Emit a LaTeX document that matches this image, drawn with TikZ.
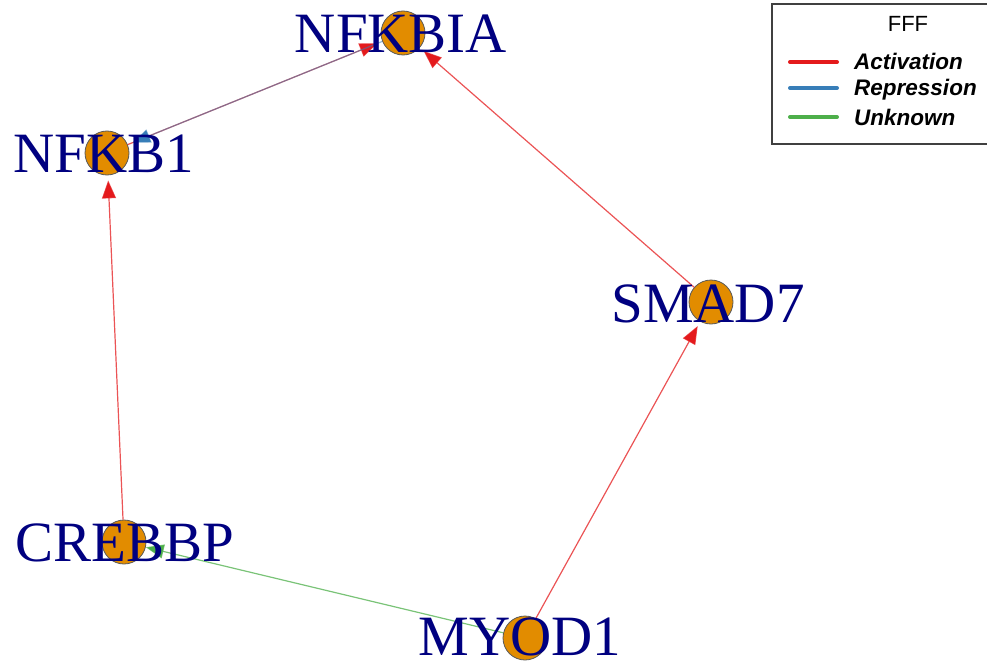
\documentclass[tikz,border=0pt]{standalone}
\usepackage{fontspec}
\setmainfont{Liberation Serif}
\setsansfont{Liberation Sans}
\usetikzlibrary{arrows.meta,positioning}
\definecolor{gene_fill}{RGB}{226,140,0}
\definecolor{gene_text}{RGB}{0,0,128}
\definecolor{activation}{RGB}{228,26,28}
\definecolor{repression}{RGB}{55,126,184}
\definecolor{unknown}{RGB}{77,175,74}

\begin{document}
\begin{tikzpicture}[x=1pt, y=-1pt,
    gene/.style={circle, draw=black!65, fill=gene_fill, minimum size=44pt, inner sep=0pt, line width=0.8pt},
    genelabel/.style={font=\fontsize{57}{57}\selectfont, text=gene_text, inner sep=0pt},
    edge/.style={line width=1.2pt, draw opacity=0.75, shorten >=5pt, -{Triangle[length=18pt, width=14pt]}},
    legline/.style={line width=4pt, line cap=round},
    legtext/.style={font=\sffamily\bfseries\itshape\fontsize{22.5}{22.5}\selectfont, anchor=base west, inner sep=0pt},
]
\useasboundingbox (0,0) rectangle (987,666);

% Genes
\node[gene] (nfkbia) at (403, 33) {};
\node[gene] (nfkb1) at (107, 153) {};
\node[gene] (smad7) at (711, 302) {};
\node[gene] (crebbp) at (124, 542) {};
\node[gene] (myod1) at (525, 638) {};

% Interactions
\draw[edge, activation] (nfkb1) -- (nfkbia);
\draw[edge, repression, draw opacity=0.55] (nfkbia) -- (nfkb1);
\draw[edge, activation] (smad7) -- (nfkbia);
\draw[edge, activation] (crebbp) -- (nfkb1);
\draw[edge, activation] (myod1) -- (smad7);
\draw[edge, unknown, shorten >=0pt] (myod1) -- (crebbp);

% Gene names
\node[genelabel] (nfkbia-lbl) at (401, 34) {NFKBIA};
\node[genelabel] (nfkb1-lbl) at (104, 154) {NFKB1};
\node[genelabel] (smad7-lbl) at (708, 304) {SMAD7};
\node[genelabel] (crebbp-lbl) at (125, 543) {CREBBP};
\node[genelabel] (myod1-lbl) at (520, 637) {MYOD1};

% Legend
\draw[black!75, line width=1.5pt] (772, 4) rectangle (1000, 144);
\node[font=\sffamily\fontsize{22}{22}\selectfont, inner sep=0pt] (leg-title) at (908, 24) {FFF};
\node[legtext] (leg-act) at (854, 70) {Activation};
\node[legtext] (leg-rep) at (854, 96) {Repression};
\node[legtext] (leg-unk) at (854, 125) {Unknown};
\draw[legline, activation] ([xshift=-17pt, yshift=8pt]leg-act.base west) -- ++(-47, 0);
\draw[legline, repression] ([xshift=-17pt, yshift=8pt]leg-rep.base west) -- ++(-47, 0);
\draw[legline, unknown] ([xshift=-17pt, yshift=8pt]leg-unk.base west) -- ++(-47, 0);

\end{tikzpicture}
\end{document}
